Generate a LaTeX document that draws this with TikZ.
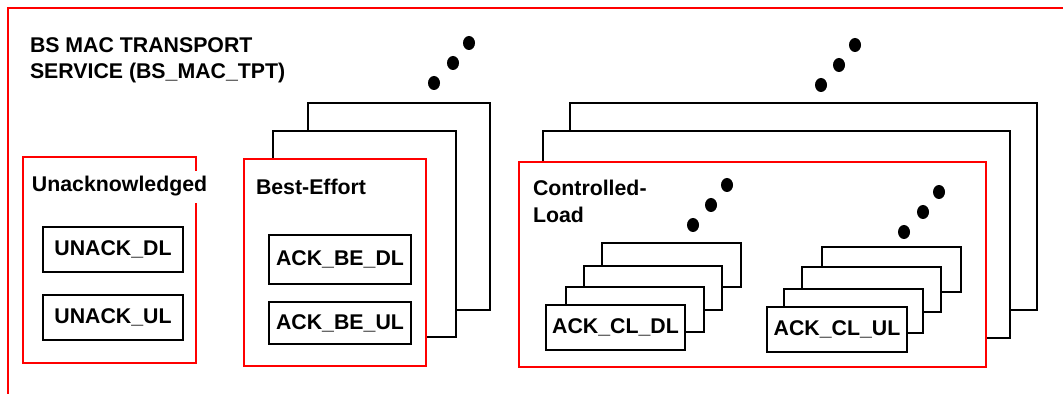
\documentclass[tikz,border=0pt]{standalone}
\usepackage{fontspec}
\setmainfont{Liberation Sans}

\begin{document}
\begin{tikzpicture}[x=0.5pt, y=-0.5pt, line width=1pt,
	every node/.style={font=\bfseries\fontsize{10.65}{13.25}\selectfont},
	redbox/.style={draw=red, fill=white},
	layer/.style={draw=black, fill=white},
	chan/.style={draw=black, fill=white, inner sep=0pt, minimum width=70pt, minimum height=22.5pt},
	dot/.style={fill=black, x radius=3pt, y radius=3.5pt}]
		\useasboundingbox (0,0) rectangle (1063,394);
		\clip (0,0) rectangle (1063,394);
		\draw[red] (8,8) rectangle (1100,440);
		\node[anchor=north west, inner sep=0pt, align=left] (title) at (29,36.5) {BS MAC TRANSPORT\\SERVICE (BS\_MAC\_TPT)};
		
		% unacknowledged
		\draw[redbox] (23,157) rectangle (196,363);
		\node[anchor=base west, fill=white, inner sep=3pt] (unack) at (25,192) {Unacknowledged};
		\node[chan] (udl) at (113,249.5) {UNACK\_DL};
		\node[chan] (uul) at (113,317.5) {UNACK\_UL};
		
		% best-effort
		\fill[dot] (434,83) ellipse [] (453,63) ellipse [] (469,43) ellipse [];
		\draw[layer] (308,103) rectangle (490,310);
		\draw[layer] (273,131) rectangle (456,337);
		\draw[redbox] (244,159) rectangle (426,366);
		\node[anchor=base west, inner sep=0pt] (be) at (255,195) {Best-Effort};
		\node[chan, minimum width=71pt, minimum height=24.5pt] (bedl) at (340,259.5) {ACK\_BE\_DL};
		\node[chan, minimum width=71pt, minimum height=21pt] (beul) at (340,323) {ACK\_BE\_UL};
		
		% controlled-load
		\fill[dot] (821,85) ellipse [] (839,65) ellipse [] (855,45) ellipse [];
		\draw[layer] (570,103) rectangle (1037,310);
		\draw[layer] (543,131) rectangle (1010,338);
		\draw[redbox] (519,162) rectangle (986,367);
		\node[anchor=north west, inner sep=0pt, align=left] (cl) at (532,179.5) {Controlled-\\Load};
		
		\fill[dot] (693,225) ellipse [] (711,205) ellipse [] (727,185) ellipse [];
		\draw[layer] (602,243) rectangle (741,287);
		\draw[layer] (584,266) rectangle (722,310);
		\draw[layer] (566,287) rectangle (704,332);
		\node[chan, minimum width=69.5pt] (cldl) at (615.5,327.5) {ACK\_CL\_DL};
		
		\fill[dot] (904,232) ellipse [] (923,212) ellipse [] (939,192) ellipse [];
		\draw[layer] (822,247) rectangle (961,292);
		\draw[layer] (802,267) rectangle (941,312);
		\draw[layer] (784,289) rectangle (923,333);
		\node[chan] (clul) at (837,329.5) {ACK\_CL\_UL};
	\end{tikzpicture}
\end{document}
